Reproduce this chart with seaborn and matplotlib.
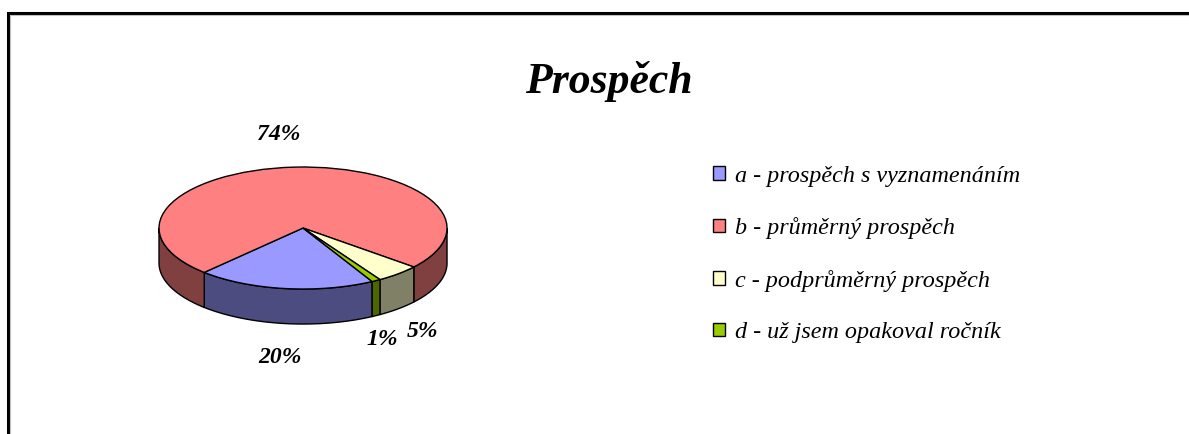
import numpy as np
import matplotlib
matplotlib.use("Agg")
import matplotlib.pyplot as plt
import seaborn as sns
from matplotlib.patches import Polygon, Rectangle

# Data
categories = ["a - prospěch s vyznamenáním", "b - průměrný prospěch",
              "c - podprůměrný prospěch", "d - už jsem opakoval ročník"]
shares = [20, 74, 5, 1]
pct_labels = ["20%", "74%", "5%", "1%"]

# Styles
top_colors = ["#9999FF", "#FF8080", "#FFFFCC", "#99CC00"]
side_colors = ["#4C4C80", "#804040", "#808066", "#4C6600"]
label_xy = [(-0.16, -2.13), (-0.17, 1.53), (0.83, -1.70), (0.55, -1.82)]
depth = 0.574

sns.set_theme(style="white")
plt.rcParams["font.family"] = ["Liberation Serif", "DejaVu Serif"]
plt.rcParams["text.color"] = "black"

fig = plt.figure(figsize=(11.89, 4.34), dpi=100)
ax = fig.add_axes([0.0974, 0.1373, 0.3149, 0.5903])

wedges, _ = ax.pie(shares, colors=top_colors, startangle=-61.3, counterclock=False,
                   wedgeprops=dict(edgecolor="black", linewidth=1.0, zorder=3))

# side walls of the 3d pie (front half only)
for w, col in zip(wedges, side_colors):
    for k in range(-2, 3):
        lo = max(w.theta1, 180 + 360 * k)
        hi = min(w.theta2, 360 + 360 * k)
        if hi <= lo:
            continue
        t = np.radians(np.linspace(lo, hi, 200))
        xs, ys = np.cos(t), np.sin(t)
        pts = np.column_stack([np.r_[xs, xs[::-1]], np.r_[ys, ys[::-1] - depth]])
        ax.add_patch(Polygon(pts, closed=True, facecolor=col, edgecolor="black",
                             linewidth=1.0, zorder=2))

ax.set_aspect("auto")
ax.set_xlim(-1.3, 1.3)
ax.set_ylim(-2.4, 1.8)
ax.axis("off")

for (x, y), txt in zip(label_xy, pct_labels):
    ax.text(x, y, txt, ha="center", va="center", fontsize=17,
            fontweight="bold", fontstyle="italic", color="black")

fig.text(0.512, 0.812, "Prospěch", ha="center", va="center", fontsize=31.5,
         fontweight="bold", fontstyle="italic", color="black")

leg = fig.legend(wedges, categories, loc="upper left", bbox_to_anchor=(0.5895, 0.646),
                 frameon=False, borderpad=0, handlelength=0.5, handleheight=0.5,
                 handletextpad=0.42, labelspacing=1.26,
                 prop=dict(style="italic", size=17.4))
for t in leg.get_texts():
    t.set_color("black")

# outer frame
fig.patches.append(Rectangle((8 / 1189, -0.1), 1.2, (434 - 13) / 434 + 0.1,
                             transform=fig.transFigure, fill=False,
                             edgecolor="black", linewidth=2.2, zorder=10))
fig.patches.append(Rectangle((10 / 1189, -0.1), 1.2, (434 - 15) / 434 + 0.1,
                             transform=fig.transFigure, fill=False,
                             edgecolor="#c0c0c0", linewidth=0.8, zorder=10))

fig.savefig("out.png", dpi=100)
